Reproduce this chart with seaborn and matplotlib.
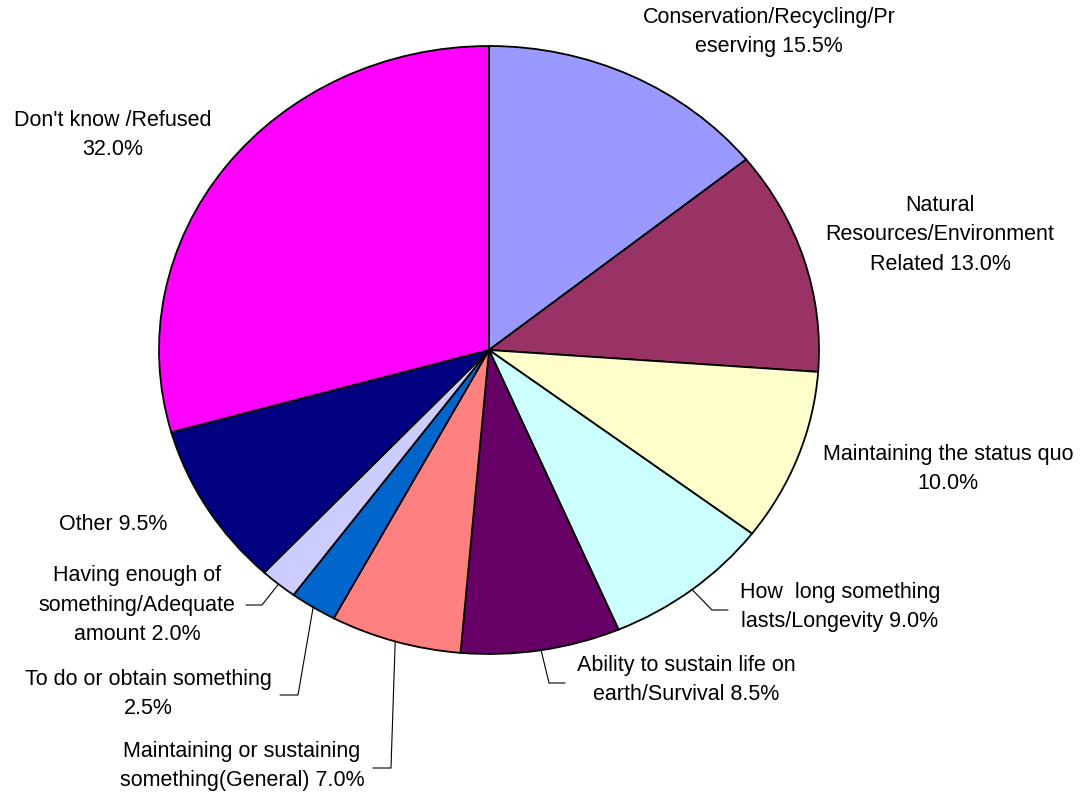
import numpy as np
import seaborn as sns
import matplotlib.pyplot as plt
from matplotlib.lines import Line2D

# Data
categories = [
    "Conservation/Recycling/Pr\neserving",
    "Natural\nResources/Environment\nRelated",
    "Maintaining the status quo\n",
    "How  long something\nlasts/Longevity",
    "Ability to sustain life on\nearth/Survival",
    "Maintaining or sustaining\nsomething(General)",
    "To do or obtain something\n",
    "Having enough of\nsomething/Adequate\namount",
    "Other",
    "Don't know /Refused\n",
]
values = [15.5, 13.0, 10.0, 9.0, 8.5, 7.0, 2.5, 2.0, 9.5, 32.0]
colors = ["#9999FF", "#993366", "#FFFFCC", "#CCFFFF", "#660066",
          "#FF8080", "#0066CC", "#CCCCFF", "#000080", "#FF00FF"]

# Layout (pixels from top-left of the 1089x796 image)
W, H = 1089, 796
label_pos = [(769, 32), (940, 235), (948, 469), (840, 607), (686, 680),
             (242, 766), (148, 694), (137, 605), (113, 525), (113, 135)]
# elbow points for leader lines (None = no leader)
leaders = [None, None, None,
           [(712, 610), (728, 610)],
           [(549, 683), (565, 683)],
           [(391, 768), (373, 768)],
           [(298, 695), (280, 695)],
           [(262, 605), (246, 605)],
           None, None]

sns.set_theme(style="white")
plt.rcParams["font.family"] = ["Liberation Sans", "DejaVu Sans"]

fig = plt.figure(figsize=(W / 100, H / 100), dpi=100)
ax = fig.add_axes([159 / W, 142 / H, 660 / W, 608 / H])

wedges, _ = ax.pie(values, colors=colors, startangle=90, counterclock=False,
                   wedgeprops=dict(edgecolor="black", linewidth=1.3))
ax.set_aspect("auto")
ax.set_xlim(-1, 1)
ax.set_ylim(-1, 1)
ax.axis("off")


def px(p):
    return (p[0] / W, 1 - p[1] / H)


for wedge, name, val, pos, lead in zip(wedges, categories, values, label_pos, leaders):
    if name.endswith("\n"):
        text = f"{name}{val:.1f}%"
    else:
        text = f"{name} {val:.1f}%"
    fig.text(*px(pos), text, ha="center", va="center", fontsize=15.5,
             linespacing=1.52, color="black")
    if lead is not None:
        mid = np.deg2rad((wedge.theta1 + wedge.theta2) / 2)
        edge = ax.transData.transform((np.cos(mid), np.sin(mid)))
        edge = fig.transFigure.inverted().transform(edge)
        pts = [tuple(edge)] + [px(p) for p in lead]
        xs, ys = zip(*pts)
        fig.add_artist(Line2D(xs, ys, color="black", linewidth=0.8,
                              transform=fig.transFigure))

fig.savefig("out.png", dpi=100)
